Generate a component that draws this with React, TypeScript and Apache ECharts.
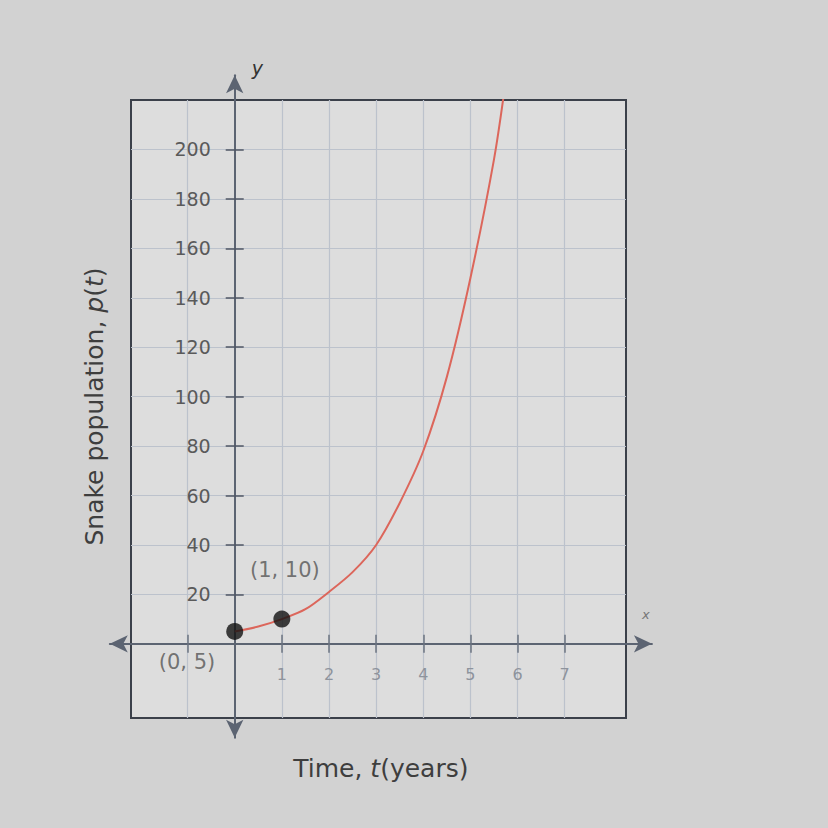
import React, { useEffect, useRef } from "react";
import * as echarts from "echarts";

// Data
const timeYears = [0, 0.5, 1, 1.5, 2, 2.5, 3, 3.5, 4, 4.5, 5, 5.5, 5.75];
const population = [5, 7, 10, 14, 21, 29, 40, 57, 78, 108, 148, 196, 228];
const markedPoints = [
  { t: 0, p: 5, label: "(0, 5)" },
  { t: 1, p: 10, label: "(1, 10)" },
];
const xTickValues = [-1, 1, 2, 3, 4, 5, 6, 7];
const xLabelValues = [1, 2, 3, 4, 5, 6, 7];
const yTickValues = [20, 40, 60, 80, 100, 120, 140, 160, 180, 200];

// layout
const BOX_LEFT = 131;
const BOX_TOP = 100;
const BOX_W = 495;
const BOX_H = 618;
const X_MIN = -2.2, X_MAX = 8.3;
const Y_MIN = -30, Y_MAX = 220;
const X1_MIN = -2.65, X1_MAX = 8.85;
const Y1_MIN = -38, Y1_MAX = 230;

const FONT = "DejaVu Sans, Verdana, sans-serif";

export default function App() {
  const ref = useRef<HTMLDivElement>(null);
  useEffect(() => {
    if (!ref.current) return;
    const chart = echarts.init(ref.current, null, { renderer: "svg" });
    const ux = BOX_W / (X_MAX - X_MIN);
    const uy = BOX_H / (Y_MAX - Y_MIN);
    const x0 = BOX_LEFT + (0 - X_MIN) * ux;
    const y0 = BOX_TOP + Y_MAX * uy;
    const g1Left = x0 + X1_MIN * ux;
    const g1Width = (X1_MAX - X1_MIN) * ux;
    const g1Top = y0 - Y1_MAX * uy;
    const g1Height = (Y1_MAX - Y1_MIN) * uy;
    const g1Bottom = g1Top + g1Height;

    chart.setOption({
      animation: false,
      backgroundColor: "#d2d2d2",
      textStyle: { fontFamily: FONT },
      grid: [
        {
          left: BOX_LEFT,
          top: BOX_TOP,
          width: BOX_W,
          height: BOX_H,
          show: true,
          backgroundColor: "#dddddd",
          borderColor: "#3b404a",
          borderWidth: 2,
          containLabel: false,
          outerBoundsMode: "none",
        },
        {
          left: g1Left,
          top: g1Top,
          width: g1Width,
          height: g1Height,
          containLabel: false,
          outerBoundsMode: "none",
        },
      ],
      xAxis: [
        {
          gridIndex: 0,
          type: "value",
          min: X_MIN,
          max: X_MAX,
          axisLine: { show: false, onZero: true },
          axisTick: {
            show: true,
            inside: true,
            length: 9,
            customValues: xTickValues,
            lineStyle: { color: "#6b7380", width: 1.5 },
          },
          axisLabel: { show: false },
          splitLine: { show: true, lineStyle: { color: "#bcc2cc", width: 1.2 } },
        },
        {
          gridIndex: 1,
          type: "value",
          min: X1_MIN,
          max: X1_MAX,
          position: "bottom",
          offset: -(g1Bottom - y0),
          axisLine: {
            show: true,
            onZero: false,
            symbol: ["arrow", "arrow"],
            symbolSize: [13, 18],
            lineStyle: { color: "#5c6472", width: 2 },
          },
          axisTick: {
            show: true,
            inside: false,
            length: 9,
            customValues: xTickValues,
            lineStyle: { color: "#6b7380", width: 1.5 },
          },
          axisLabel: {
            show: true,
            customValues: xLabelValues,
            margin: 23,
            color: "#8e939c",
            fontSize: 16,
          },
          splitLine: { show: false },
          name: "Time, {i|t}(years)",
          nameLocation: "middle",
          nameGap: 112,
          nameMoveOverlap: false,
          nameTextStyle: {
            color: "#3e3e3e",
            fontSize: 25,
            rich: { i: { fontStyle: "italic", fontSize: 25, color: "#3e3e3e" } },
          },
        },
      ],
      yAxis: [
        {
          gridIndex: 0,
          type: "value",
          min: Y_MIN,
          max: Y_MAX,
          axisLine: { show: false, onZero: true },
          axisTick: {
            show: true,
            inside: true,
            length: 9,
            customValues: yTickValues,
            lineStyle: { color: "#4f5664", width: 1.5 },
          },
          axisLabel: { show: false },
          splitLine: { show: true, lineStyle: { color: "#bcc2cc", width: 1.2 } },
        },
        {
          gridIndex: 1,
          type: "value",
          min: Y1_MIN,
          max: Y1_MAX,
          position: "left",
          offset: -(x0 - g1Left),
          axisLine: {
            show: true,
            onZero: false,
            symbol: ["arrow", "arrow"],
            symbolSize: [13, 18],
            lineStyle: { color: "#5c6472", width: 2 },
          },
          axisTick: {
            show: true,
            inside: false,
            length: 9,
            customValues: yTickValues,
            lineStyle: { color: "#4f5664", width: 1.5 },
          },
          axisLabel: {
            show: true,
            customValues: yTickValues,
            margin: 24,
            color: "#5a5a5a",
            fontSize: 19,
          },
          splitLine: { show: false },
          name: "Snake population, {i|p}({i|t})",
          nameLocation: "middle",
          nameGap: 128,
          nameRotate: 90,
          nameMoveOverlap: false,
          nameTextStyle: {
            color: "#3e3e3e",
            fontSize: 25,
            rich: { i: { fontStyle: "italic", fontSize: 25, color: "#3e3e3e" } },
          },
        },
      ],
      graphic: [
        {
          type: "text",
          left: x0 + 17,
          top: 58,
          style: { text: "y", font: `italic 19px ${FONT}`, fill: "#333" },
        },
        {
          type: "text",
          left: BOX_LEFT + BOX_W + 16,
          top: 608,
          style: { text: "x", font: `italic 13px ${FONT}`, fill: "#777" },
        },
      ],
      series: [
        {
          type: "line",
          xAxisIndex: 0,
          yAxisIndex: 0,
          data: timeYears.map((t, i) => [t, population[i]]),
          smooth: 0.3,
          showSymbol: false,
          clip: true,
          lineStyle: { color: "#dc665b", width: 2 },
          z: 3,
        },
        {
          type: "scatter",
          xAxisIndex: 0,
          yAxisIndex: 0,
          symbolSize: 17,
          itemStyle: { color: "#111" },
          z: 4,
          data: markedPoints.map((d, i) => ({
            value: [d.t, d.p],
            label:
              i === 0
                ? { show: true, formatter: d.label, position: "left", distance: 11, offset: [0, 31], color: "#555", fontSize: 21 }
                : { show: true, formatter: d.label, position: "top", distance: 30, offset: [3, 0], color: "#555", fontSize: 21 },
          })),
        },
      ],
    });
    return () => chart.dispose();
  }, []);
  return (
    <div
      ref={ref}
      style={{ position: "fixed", left: 0, top: 0, width: 828, height: 828 }}
    />
  );
}
